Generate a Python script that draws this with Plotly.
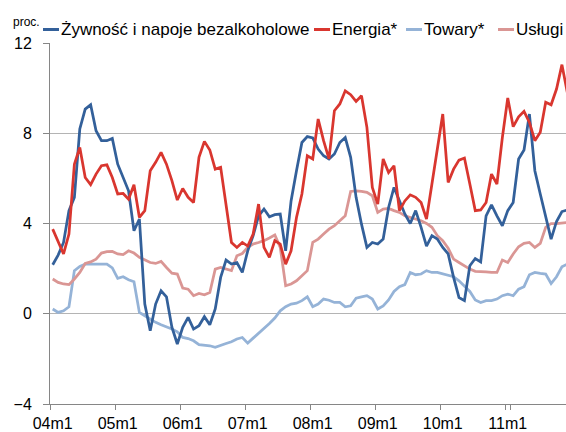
import plotly.graph_objects as go

# monthly labels 2004m1 .. 2011m12
months = [f"{y:02d}m{m}" for y in range(4, 12) for m in range(1, 13)]
tick_labels = ["04m1", "05m1", "06m1", "07m1", "08m1", "09m1", "10m1", "11m1"]

# Zywnosc i napoje bezalkoholowe
zywnosc = [2.17, 2.6, 3.16, 4.57, 5.16, 8.19, 9.07, 9.26, 8.11, 7.67, 7.67, 7.77,
           6.63, 6.04, 5.45, 3.68, 4.2, 0.43, -0.75, 0.43, 1.02, 0.75, -0.6, -1.34,
           -0.6, -0.16, -0.68, -0.53, -0.13, -0.49, 0.21, 1.61, 2.38, 2.2, 2.27, 1.83,
           2.79, 3.46, 4.34, 4.64, 4.3, 4.39, 4.42, 2.79, 5.0, 6.34, 7.59, 7.85,
           7.79, 7.3, 7.0, 6.86, 7.08, 7.59, 7.81, 6.93, 5.16, 3.97, 2.94, 3.16,
           3.09, 3.31, 4.71, 5.6, 5.0, 4.42, 4.0, 4.57, 3.83, 3.0, 3.46, 3.31,
           2.94, 2.65, 1.61, 0.72, 0.58, 2.13, 2.45, 2.3, 4.34, 4.83, 4.34, 3.9,
           4.57, 4.93, 6.86, 7.26, 8.85, 6.34, 5.31, 4.3, 3.31, 4.09, 4.53, 4.6]

energia = [3.75, 3.2, 2.65, 3.53, 6.63, 7.37, 6.04, 5.72, 6.19, 6.56, 6.6, 6.04,
           5.31, 5.33, 5.08, 5.72, 4.27, 4.57, 6.34, 6.71, 7.15, 6.63, 5.9, 5.04,
           5.55, 5.16, 4.93, 6.93, 7.64, 7.26, 6.41, 6.49, 4.9, 3.16, 2.94, 3.16,
           3.0, 3.53, 4.86, 2.94, 2.5, 3.24, 3.09, 2.2, 2.79, 4.27, 5.31, 7.0,
           6.86, 8.63, 7.67, 6.86, 9.0, 9.3, 9.88, 9.71, 9.41, 9.66, 8.26, 5.6,
           4.86, 6.86, 6.26, 6.56, 4.57, 5.0, 5.27, 5.16, 4.93, 4.2, 5.75, 7.37,
           8.85, 5.82, 6.41, 6.81, 6.9, 5.75, 4.57, 4.6, 4.93, 6.19, 5.75, 7.81,
           9.56, 8.29, 8.73, 8.97, 8.48, 7.67, 8.04, 9.37, 9.26, 9.96, 11.04, 9.8]

towary = [0.21, 0.06, 0.13, 0.31, 1.91, 2.1, 2.2, 2.2, 2.2, 2.23, 2.2, 2.03,
          1.57, 1.64, 1.51, 1.42, 0.06, -0.09, -0.24, -0.38, -0.49, -0.58, -0.68, -0.8,
          -1.05, -1.1, -1.2, -1.37, -1.39, -1.42, -1.49, -1.42, -1.32, -1.24, -1.12, -1.05,
          -1.3, -1.08, -0.87, -0.68, -0.43, -0.19, 0.13, 0.31, 0.43, 0.47, 0.58, 0.75,
          0.31, 0.43, 0.65, 0.6, 0.5, 0.5, 0.31, 0.35, 0.69, 0.75, 0.8, 0.65,
          0.21, 0.35, 0.61, 0.99, 1.2, 1.29, 1.83, 1.73, 1.76, 1.91, 1.83, 1.83,
          1.76, 1.68, 1.64, 1.46, 1.24, 0.99, 0.61, 0.5, 0.58, 0.58, 0.65, 0.8,
          0.87, 0.8, 1.09, 1.2, 1.73, 1.83, 1.79, 1.76, 1.34, 1.64, 2.08, 2.2]

uslugi = [1.54, 1.39, 1.32, 1.29, 1.54, 1.83, 2.23, 2.3, 2.42, 2.69, 2.75, 2.76,
          2.65, 2.62, 2.79, 2.69, 2.5, 2.38, 2.27, 2.23, 2.32, 2.05, 1.8, 1.76,
          1.14, 1.09, 0.8, 0.9, 0.84, 0.94, 1.98, 2.05, 1.98, 1.91, 2.57, 2.67,
          2.94, 3.09, 3.16, 3.24, 3.36, 3.49, 2.94, 1.24, 1.32, 1.46, 1.68, 1.91,
          3.16, 3.31, 3.53, 3.75, 3.9, 4.12, 4.34, 5.42, 5.45, 5.42, 5.38, 5.23,
          4.49, 4.64, 4.67, 4.57, 4.49, 4.34, 4.27, 4.2, 4.12, 4.0, 3.83, 3.46,
          3.24, 2.9, 2.42, 2.27, 2.13, 1.98, 1.88, 1.88, 1.86, 1.83, 1.83, 2.38,
          2.27, 2.65, 2.97, 3.12, 3.16, 2.94, 3.12, 3.83, 4.0, 4.0, 4.02, 4.05]

W, H = 566, 432
ML, MR, MT, MB = 50, 0, 43, 28
font = "Liberation Sans, Arial, sans-serif"

series = [
    ("Żywność i napoje bezalkoholowe", zywnosc, "#33609A"),
    ("Energia*", energia, "#D9362F"),
    ("Towary*", towary, "#95B3D7"),
    ("Usługi", uslugi, "#DA9694"),
]

fig = go.Figure()
# lighter series underneath
for idx in [2, 3, 0, 1]:
    name, vals, col = series[idx]
    fig.add_trace(go.Scatter(x=months, y=vals, mode="lines", name=name,
                             line=dict(color=col, width=2.75), showlegend=False))

# hand-made legend row above the plot (key line + label), pixel positions
legend_px = [43, 314, 406, 498]
legend_y = 29.5


def px_x(px):
    return (px - ML) / (W - ML - MR)


def px_y(py):
    return (H - MB - py) / (H - MT - MB)


for (name, vals, col), lx in zip(series, legend_px):
    fig.add_shape(type="line", xref="paper", yref="paper",
                  x0=px_x(lx), x1=px_x(lx + 16), y0=px_y(legend_y), y1=px_y(legend_y),
                  line=dict(color=col, width=3))
    fig.add_annotation(text=name, xref="paper", yref="paper", x=px_x(lx + 16.5),
                       y=px_y(legend_y), xanchor="left", yanchor="middle",
                       showarrow=False, borderpad=0, font=dict(size=17))

fig.add_annotation(text="proc.", xref="paper", yref="paper", x=px_x(26.5), y=px_y(22.5),
                   xanchor="center", yanchor="middle", showarrow=False,
                   borderpad=0, font=dict(size=12))

fig.update_layout(
    width=W, height=H,
    margin=dict(l=ML, r=MR, t=MT, b=MB),
    paper_bgcolor="white", plot_bgcolor="white",
    font=dict(family=font, size=16, color="#000000"),
    showlegend=False,
    xaxis=dict(type="category", range=[-0.5, 94.75], tickmode="array",
               tickvals=tick_labels, ticktext=tick_labels, tickson="boundaries",
               tickangle=0, ticks="outside", ticklen=5, tickcolor="#868686",
               showline=True, linecolor="#868686", linewidth=1,
               showgrid=False, zeroline=False, ticklabelstandoff=5, automargin=False),
    yaxis=dict(range=[-4, 12], tickvals=[-4, 0, 4, 8, 12], ticks="outside",
               ticklen=6, tickcolor="#868686", showline=True, linecolor="#868686",
               linewidth=1, showgrid=True, gridcolor="#B4B4B4", gridwidth=1,
               zeroline=False, ticklabelstandoff=8, automargin=False),
)

# drop the default 8px page margin so the figure fills the window exactly
fig.write_html("out.html", config={"displayModeBar": False},
               post_script="document.body.style.margin='0';"
                           "document.body.style.overflow='hidden';")
